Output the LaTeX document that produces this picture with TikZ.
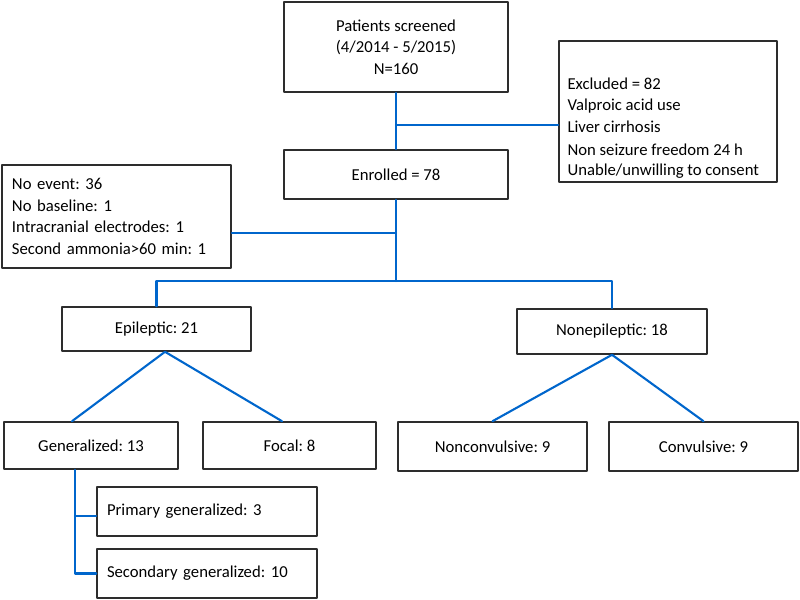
\documentclass[tikz,border=0pt]{standalone}
\usepackage{fontspec}
\setmainfont{Carlito}
\usetikzlibrary{positioning}
\definecolor{flowblue}{RGB}{0,102,204}
\definecolor{boxgray}{RGB}{45,45,45}
\frenchspacing

\begin{document}
\begin{tikzpicture}[line cap=round,line join=round,x=1cm,y=1cm,
  every node/.style={font=\fontsize{9.5}{12.3}\selectfont},
  flowbox/.style={draw=boxgray,line width=0.9pt,rectangle,inner sep=0pt},
  flowline/.style={draw=flowblue,line width=1.2pt}]
\useasboundingbox (0,0) rectangle (16,11.98);
%\draw[help lines] (0,0) grid (16,12);
% top of the chart
\node[flowbox,minimum width=4.48cm,minimum height=1.8cm,align=center] (screened) at (7.92,11.04) {Patients screened\\(4/2014 - 5/2015)\\N=160};
\node[flowbox,minimum width=4.36cm,minimum height=2.82cm] (excl) at (13.36,9.75) {};
\node[inner sep=0pt,align=left,below right=0.74cm and 0.18cm of excl.north west] (excltext) {Excluded = 82\\Valproic acid use\\Liver cirrhosis\\[1pt]Non seizure freedom 24 h\\[-1pt]Unable/unwilling to consent};
\node[flowbox,minimum width=4.48cm,minimum height=0.98cm] (enrolled) at (7.92,8.49) {Enrolled = 78};
\node[flowbox,minimum width=4.58cm,minimum height=2.06cm,text width=4.18cm,align=left] (noevent) at (2.33,7.65) {No event: 36\\No baseline: 1\\Intracranial electrodes: 1\\Second ammonia>60 min: 1};
% second level
\node[flowbox,minimum width=3.78cm,minimum height=0.88cm] (epileptic) at (3.13,5.4) {Epileptic: 21};
\node[flowbox,minimum width=3.8cm,minimum height=0.9cm] (nonepileptic) at (12.24,5.35) {Nonepileptic: 18};
\node[flowbox,minimum width=3.48cm,minimum height=0.94cm] (generalized) at (1.82,3.07) {Generalized: 13};
\node[flowbox,minimum width=3.46cm,minimum height=0.94cm] (focal) at (5.79,3.07) {Focal: 8};
\node[flowbox,minimum width=3.78cm,minimum height=0.98cm] (nonconvulsive) at (9.85,3.05) {Nonconvulsive: 9};
\node[flowbox,minimum width=3.78cm,minimum height=0.98cm] (convulsive) at (14.07,3.05) {Convulsive: 9};
\node[flowbox,minimum width=4.4cm,minimum height=0.98cm,text width=4cm,align=left] (primary) at (4.14,1.75) {Primary generalized: 3};
\node[flowbox,minimum width=4.4cm,minimum height=0.98cm,text width=4cm,align=left] (secondary) at (4.14,0.51) {Secondary generalized: 10};
% connectors
\coordinate (exj) at ([yshift=-0.27cm]excl.west);
\coordinate (nej) at ([yshift=-0.33cm]noevent.east);
\coordinate (split) at (7.92,6.36);
\coordinate (gstem) at ([xshift=-0.32cm]generalized.south);
\draw[flowline] (screened.south) -- (enrolled.north);
\draw[flowline] (exj) -- (exj -| screened.south);
\draw[flowline] (enrolled.south) -- (split);
\draw[flowline] (nej) -- (nej -| enrolled.south);
\draw[flowline] (epileptic.north) |- (split) -| (nonepileptic.north);
\draw[flowline] ([xshift=0.17cm]epileptic.south) -- ([xshift=-0.38cm]generalized.north);
\draw[flowline] ([xshift=0.17cm]epileptic.south) -- ([xshift=-0.15cm]focal.north);
\draw[flowline] (nonepileptic.south) -- (nonconvulsive.north);
\draw[flowline] (nonepileptic.south) -- (convulsive.north);
\draw[flowline] (gstem) |- (secondary.west);
\draw[flowline] (gstem |- primary.west) ++(0,-0.09) -- ([yshift=-0.09cm]primary.west);
\end{tikzpicture}
\end{document}
